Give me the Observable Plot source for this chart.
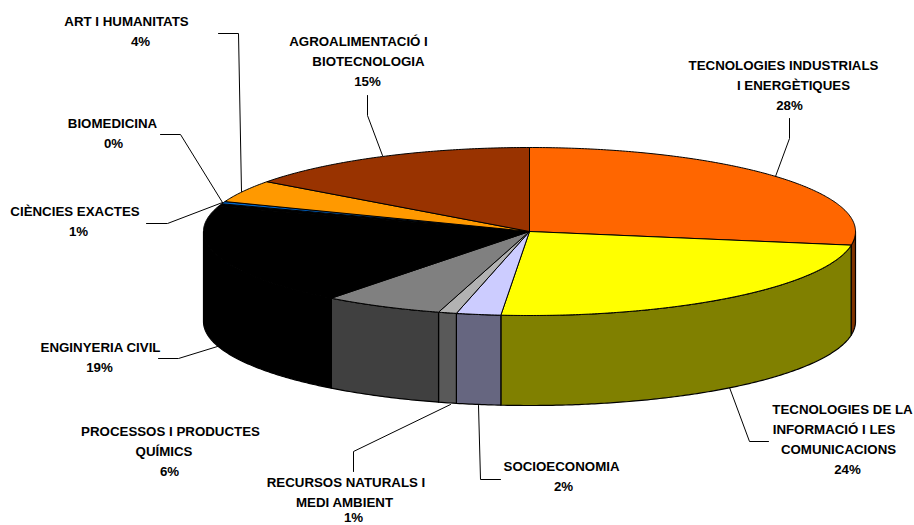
<!DOCTYPE html>
<html><head><meta charset="utf-8">
<script src="https://cdn.jsdelivr.net/npm/d3@7"></script>
<script src="https://cdn.jsdelivr.net/npm/@observablehq/plot@0.6"></script>
<style>html,body{margin:0;padding:0;background:#fff}svg{display:block}</style>
</head><body><div id="chart"></div>
<script>
const categories = ["TECNOLOGIES INDUSTRIALS I ENERGÈTIQUES","TECNOLOGIES DE LA INFORMACIÓ I LES COMUNICACIONS","SOCIOECONOMIA","RECURSOS NATURALS I MEDI AMBIENT","PROCESSOS I PRODUCTES QUÍMICS","ENGINYERIA CIVIL","CIÈNCIES EXACTES","BIOMEDICINA","ART I HUMANITATS","AGROALIMENTACIÓ I BIOTECNOLOGIA"];
const shares = [27.6,23.8,2.2,0.9,5.9,19.4,0.55,0.45,4.3,14.9];
const topColors = ["#FF6600","#FFFF00","#CCCCFF","#B2B2B2","#808080","#000000","#000000","#0066CC","#FF9900","#993300"];
const sideColors = ["#803300","#808000","#666680","#595959","#404040","#000000","#000000","#003366","#804C00","#4D1A00"];
const labelLines = [
  ["TECNOLOGIES INDUSTRIALS","I ENERGÈTIQUES"],
  ["TECNOLOGIES DE LA","INFORMACIÓ I LES","COMUNICACIONS"],
  ["SOCIOECONOMIA"],
  ["RECURSOS NATURALS I","MEDI AMBIENT"],
  ["PROCESSOS I PRODUCTES","QUÍMICS"],
  ["ENGINYERIA CIVIL"],
  ["CIÈNCIES EXACTES"],
  ["BIOMEDICINA"],
  ["ART I HUMANITATS"],
  ["AGROALIMENTACIÓ I","BIOTECNOLOGIA"]
];
// layout
const W = 914, H = 525, cx = 529, cy = 231, rx = 326, ry = 84, depth = 90;
const labelX = [[783,793,789],[842,833.5,838,847],[561,563],[345.5,344,353],[170,163.5,169],[100,99],[74.5,78],[112,113],[126,140],[358,368,367]];
const labelY = [[65,85,105],[409,429,449,469],[466,486],[482,502,517],[431,451,471],[347,367],[211,231],[123,143],[21,41],[41,61,81]];
const leaders = [
  [[789,118],[789,138],[775,176]],
  [[768,441],[749,441],[729,387]],
  [[500,479],[480,479],[478,405]],
  [[353,471],[353,451],[450,404]],
  null,
  [[158,358],[178,358],[217,346]],
  [[146,223],[167,223],[222,202]],
  [[160,134],[180,134],[222,202]],
  [[218,33],[238,33],[241,191]],
  [[367,95],[367,115],[382,155]]
];

const total = d3.sum(shares);
const cum = d3.cumsum(shares);
const ang = v => v / total * 2 * Math.PI;
const px = t => cx + rx * Math.sin(t);
const py = t => cy - ry * Math.cos(t);

const tops = [], sides = [];
shares.forEach((v, i) => {
  const a0 = ang(cum[i] - v), a1 = ang(cum[i]);
  const n = Math.max(2, Math.ceil((a1 - a0) / 0.01));
  const arc = d3.range(n + 1).map(k => a0 + (a1 - a0) * k / n);
  const pts = [{x: cx, y: cy}, ...arc.map(t => ({x: px(t), y: py(t)})), {x: cx, y: cy}];
  pts.forEach(p => tops.push({...p, slice: categories[i], color: topColors[i]}));
  const s0 = Math.max(a0, Math.PI / 2), s1 = Math.min(a1, 3 * Math.PI / 2);
  if (s1 > s0) {
    const m = Math.max(2, Math.ceil((s1 - s0) / 0.01));
    const sa = d3.range(m + 1).map(k => s0 + (s1 - s0) * k / m);
    const ring = [...sa.map(t => ({x: px(t), y: py(t)})), ...sa.slice().reverse().map(t => ({x: px(t), y: py(t) + depth}))];
    ring.push(ring[0]);
    ring.forEach(p => sides.push({...p, slice: categories[i], color: sideColors[i]}));
  }
});

const texts = [];
labelLines.forEach((lines, i) => {
  [...lines, Math.round(shares[i]) + "%"].forEach((t, k) => {
    texts.push({text: t, x: labelX[i][k], y: labelY[i][k]});
  });
});
const leaderPts = leaders.flatMap((l, i) => l ? l.map(([x, y]) => ({x, y, slice: categories[i]})) : []);

const chart = Plot.plot({
  width: W, height: H, margin: 0,
  x: {domain: [0, W], range: [0, W], axis: null},
  y: {domain: [0, H], range: [0, H], axis: null},
  color: {type: "identity"},
  marks: [
    Plot.line(leaderPts, {x: "x", y: "y", z: "slice", stroke: "#000", strokeWidth: 1, curve: "linear"}),
    Plot.line(sides, {x: "x", y: "y", z: "slice", fill: "color", stroke: "#000", strokeWidth: 1.2, curve: "linear"}),
    Plot.line(tops, {x: "x", y: "y", z: "slice", fill: "color", stroke: "#000", strokeWidth: 1, curve: "linear"}),
    Plot.text(texts, {x: "x", y: "y", text: "text", textAnchor: "middle", fontFamily: "Liberation Sans", fontWeight: "bold", fontSize: 13.3, fill: "#000"})
  ]
});
document.getElementById("chart").append(chart);
</script></body></html>
